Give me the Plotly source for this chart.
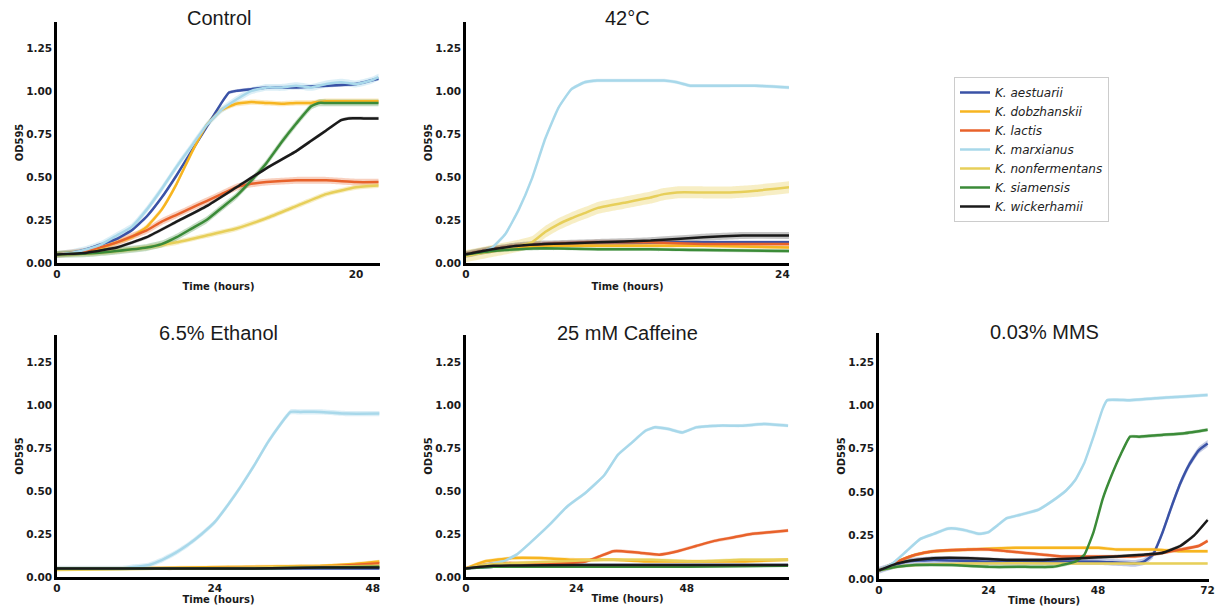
import plotly.graph_objects as go

# ---------------- data ----------------
SPECIES = ["K. aestuarii", "K. dobzhanskii", "K. lactis", "K. marxianus",
           "K. nonfermentans", "K. siamensis", "K. wickerhamii"]
PANEL_TITLES = ["Control", "42°C", "6.5% Ethanol", "25 mM Caffeine", "0.03% MMS"]
X_TICKS = [[0, 20], [0, 24], [0, 24, 48], [0, 24, 48], [0, 24, 48, 72]]
Y_TICKS = [0.0, 0.25, 0.5, 0.75, 1.0, 1.25]

# Control
ctrl_aes_t = [0, 1, 2, 3, 4, 5, 6, 7, 8, 9, 10, 11, 11.5, 12, 13, 14, 16, 18, 20, 21.5]
ctrl_aes = [0.05, 0.06, 0.08, 0.11, 0.14, 0.19, 0.27, 0.38, 0.51, 0.65, 0.79, 0.93, 0.99, 1.00, 1.01, 1.02, 1.02, 1.03, 1.04, 1.07]
ctrl_dob_t = [0, 1, 2, 3, 4, 5, 6, 7, 8, 9, 10, 11, 12, 13, 14, 15, 16, 17, 18, 19, 20, 21.5]
ctrl_dob = [0.05, 0.06, 0.07, 0.09, 0.12, 0.15, 0.21, 0.31, 0.46, 0.64, 0.80, 0.89, 0.925, 0.935, 0.93, 0.925, 0.93, 0.93, 0.94, 0.94, 0.94, 0.94]
ctrl_lac_t = [0, 2, 4, 6, 7, 8, 9, 10, 11, 12, 13, 14, 16, 18, 20, 21.5]
ctrl_lac = [0.05, 0.07, 0.12, 0.19, 0.24, 0.28, 0.32, 0.36, 0.40, 0.44, 0.46, 0.47, 0.48, 0.48, 0.47, 0.47]
ctrl_mar_t = [0, 1, 2, 3, 4, 5, 6, 7, 8, 9, 10, 11, 12, 13, 14, 15, 16, 17, 18, 19, 20, 21, 21.5]
ctrl_mar = [0.05, 0.06, 0.08, 0.11, 0.16, 0.21, 0.31, 0.43, 0.56, 0.68, 0.80, 0.89, 0.95, 1.00, 1.02, 1.02, 1.03, 1.02, 1.04, 1.05, 1.04, 1.06, 1.08]
ctrl_non_t = [0, 2, 4, 6, 8, 10, 12, 14, 16, 18, 20, 21.5]
ctrl_non = [0.05, 0.055, 0.07, 0.09, 0.12, 0.16, 0.20, 0.26, 0.33, 0.40, 0.44, 0.45]
ctrl_sia_t = [0, 2, 4, 6, 7, 8, 9, 10, 11, 12, 13, 14, 15, 16, 17, 17.5, 18, 20, 21.5]
ctrl_sia = [0.05, 0.055, 0.07, 0.09, 0.11, 0.15, 0.20, 0.25, 0.32, 0.39, 0.48, 0.58, 0.70, 0.81, 0.91, 0.93, 0.93, 0.93, 0.93]
ctrl_wic_t = [0, 2, 4, 6, 8, 10, 12, 14, 16, 17, 18, 19, 19.5, 20.5, 21.5]
ctrl_wic = [0.05, 0.06, 0.09, 0.15, 0.24, 0.33, 0.44, 0.55, 0.65, 0.71, 0.77, 0.83, 0.84, 0.84, 0.84]
ctrl_sd = [0.01, 0.015, 0.02, 0.02, 0.015, 0.02, 0.01]

# 42 °C
heat_aes_t = [0, 2, 4, 6, 10, 14, 18, 24.5]
heat_aes = [0.05, 0.08, 0.10, 0.11, 0.12, 0.12, 0.12, 0.12]
heat_dob_t = [0, 2, 4, 6, 10, 14, 18, 24.5]
heat_dob = [0.05, 0.07, 0.09, 0.10, 0.10, 0.10, 0.10, 0.09]
heat_lac_t = [0, 2, 4, 6, 10, 14, 18, 24.5]
heat_lac = [0.05, 0.08, 0.10, 0.11, 0.12, 0.12, 0.11, 0.11]
heat_mar_t = [0, 1, 2, 3, 4, 5, 6, 7, 8, 9, 10, 12, 14, 15, 16, 17, 18, 20, 22, 24.5]
heat_mar = [0.05, 0.06, 0.09, 0.17, 0.31, 0.49, 0.72, 0.90, 1.01, 1.05, 1.06, 1.06, 1.06, 1.06, 1.05, 1.03, 1.03, 1.03, 1.03, 1.02]
heat_non_t = [0, 2, 4, 5, 6, 7, 8, 9, 10, 12, 14, 15, 16, 18, 20, 22, 24.5]
heat_non = [0.04, 0.07, 0.10, 0.12, 0.18, 0.225, 0.26, 0.29, 0.32, 0.35, 0.38, 0.40, 0.41, 0.41, 0.41, 0.42, 0.44]
heat_sia_t = [0, 2, 4, 6, 10, 14, 18, 24.5]
heat_sia = [0.05, 0.07, 0.08, 0.085, 0.08, 0.08, 0.075, 0.07]
heat_wic_t = [0, 2, 4, 6, 10, 14, 18, 21, 24.5]
heat_wic = [0.05, 0.08, 0.10, 0.11, 0.12, 0.13, 0.15, 0.16, 0.16]
heat_sd = [0.01, 0.01, 0.015, 0.01, 0.035, 0.01, 0.02]

# 6.5 % Ethanol
eth_aes_t = [0, 12, 24, 36, 49]
eth_aes = [0.05, 0.05, 0.05, 0.05, 0.05]
eth_dob_t = [0, 10, 20, 30, 40, 45, 49]
eth_dob = [0.05, 0.05, 0.055, 0.06, 0.065, 0.075, 0.09]
eth_lac_t = [0, 10, 20, 30, 40, 45, 49]
eth_lac = [0.05, 0.05, 0.05, 0.055, 0.06, 0.07, 0.08]
eth_mar_t = [0, 4, 8, 10, 12, 14, 16, 18, 20, 22, 24, 26, 28, 30, 32, 34, 35.5, 37, 40, 44, 49]
eth_mar = [0.05, 0.05, 0.05, 0.05, 0.06, 0.07, 0.10, 0.14, 0.19, 0.25, 0.32, 0.42, 0.53, 0.65, 0.78, 0.89, 0.96, 0.96, 0.96, 0.95, 0.95]
eth_non_t = [0, 10, 20, 30, 40, 49]
eth_non = [0.04, 0.045, 0.05, 0.055, 0.06, 0.065]
eth_sia_t = [0, 20, 30, 40, 49]
eth_sia = [0.05, 0.05, 0.05, 0.055, 0.06]
eth_wic_t = [0, 10, 20, 30, 40, 49]
eth_wic = [0.05, 0.05, 0.05, 0.05, 0.055, 0.055]
eth_sd = [0.005, 0.01, 0.01, 0.015, 0.005, 0.005, 0.005]

# 25 mM Caffeine
caf_aes_t = [0, 6, 20, 40, 70]
caf_aes = [0.05, 0.06, 0.07, 0.07, 0.07]
caf_dob_t = [0, 4, 10, 16, 24, 32, 40, 50, 60, 70]
caf_dob = [0.05, 0.09, 0.11, 0.11, 0.10, 0.10, 0.09, 0.09, 0.09, 0.10]
caf_lac_t = [0, 6, 12, 20, 26, 29, 32, 34, 38, 42, 46, 50, 54, 58, 62, 66, 70]
caf_lac = [0.05, 0.08, 0.08, 0.08, 0.09, 0.12, 0.15, 0.15, 0.14, 0.13, 0.15, 0.18, 0.21, 0.23, 0.25, 0.26, 0.27]
caf_mar_t = [0, 4, 8, 11, 14, 18, 22, 26, 30, 33, 36, 39, 41, 44, 47, 50, 55, 60, 65, 70]
caf_mar = [0.05, 0.07, 0.09, 0.13, 0.20, 0.30, 0.41, 0.49, 0.59, 0.71, 0.78, 0.85, 0.87, 0.86, 0.84, 0.87, 0.88, 0.88, 0.89, 0.88]
caf_non_t = [0, 4, 10, 20, 30, 40, 50, 60, 70]
caf_non = [0.05, 0.07, 0.08, 0.09, 0.10, 0.10, 0.09, 0.10, 0.10]
caf_sia_t = [0, 6, 12, 24, 48, 70]
caf_sia = [0.05, 0.06, 0.06, 0.06, 0.06, 0.065]
caf_wic_t = [0, 6, 24, 48, 70]
caf_wic = [0.05, 0.065, 0.07, 0.07, 0.07]
caf_sd = [0.005, 0.01, 0.01, 0.01, 0.01, 0.005, 0.005]

# 0.03 % MMS
mms_aes_t = [0, 6, 12, 24, 36, 48, 56, 58, 60, 62, 64, 66, 68, 70, 72]
mms_aes = [0.05, 0.10, 0.11, 0.10, 0.10, 0.10, 0.09, 0.10, 0.14, 0.26, 0.41, 0.55, 0.66, 0.74, 0.78]
mms_dob_t = [0, 4, 8, 12, 20, 30, 40, 48, 52, 60, 66, 72]
mms_dob = [0.05, 0.10, 0.14, 0.16, 0.17, 0.18, 0.18, 0.18, 0.17, 0.17, 0.16, 0.16]
mms_lac_t = [0, 4, 8, 12, 20, 24, 28, 32, 36, 40, 48, 56, 62, 66, 70, 72]
mms_lac = [0.05, 0.10, 0.14, 0.16, 0.17, 0.17, 0.16, 0.15, 0.14, 0.13, 0.13, 0.13, 0.15, 0.17, 0.19, 0.22]
mms_mar_t = [0, 3, 6, 9, 12, 15, 17, 19, 22, 24, 26, 28, 31, 35, 38, 41, 43, 45, 47, 49, 50, 55, 60, 66, 72]
mms_mar = [0.05, 0.09, 0.16, 0.23, 0.26, 0.29, 0.29, 0.28, 0.26, 0.27, 0.31, 0.35, 0.37, 0.40, 0.45, 0.51, 0.57, 0.67, 0.82, 0.98, 1.03, 1.03, 1.04, 1.05, 1.06]
mms_non_t = [0, 4, 8, 20, 40, 72]
mms_non = [0.05, 0.07, 0.08, 0.09, 0.09, 0.09]
mms_sia_t = [0, 4, 8, 16, 24, 32, 38, 40, 43, 45, 47, 49, 51, 53, 55, 57, 62, 67, 72]
mms_sia = [0.05, 0.07, 0.08, 0.08, 0.07, 0.07, 0.07, 0.08, 0.10, 0.14, 0.27, 0.46, 0.60, 0.72, 0.82, 0.82, 0.83, 0.84, 0.86]
mms_wic_t = [0, 4, 8, 12, 20, 28, 36, 44, 52, 58, 62, 66, 69, 72]
mms_wic = [0.05, 0.09, 0.11, 0.12, 0.12, 0.11, 0.11, 0.12, 0.13, 0.14, 0.15, 0.19, 0.25, 0.34]
mms_sd = [0.02, 0.01, 0.01, 0.01, 0.005, 0.01, 0.01]

# ---------------- styling ----------------
COLORS = ["#3A52A6", "#F7B520", "#E8622B", "#A8D8EA", "#E7CF5A", "#3B8B38", "#1A1A1A"]
FILLS = ["rgba(58,82,166,0.30)", "rgba(247,181,32,0.30)", "rgba(232,98,43,0.30)",
         "rgba(168,216,234,0.40)", "rgba(231,207,90,0.35)", "rgba(59,139,56,0.30)",
         "rgba(26,26,26,0.25)"]

W, H = 1221, 612
# pixel boxes: (left, right, top, bottom)
BOXES = [(57, 380, 22, 263), (466, 789, 22, 263),
         (57, 380, 335, 577), (466, 789, 335, 577), (879, 1209, 333, 579)]
X_RANGES = [[0, 21.6], [0, 24.5], [0, 49.1], [0, 70.2], [0, 72.3]]
Y_RANGES = [[0, 1.40], [0, 1.40], [0, 1.407], [0, 1.407], [0, 1.417]]
TITLE_Y = [18, 18, 333, 333, 332]
SMOOTH = 0.4

panels = [
    [(ctrl_aes_t, ctrl_aes), (ctrl_dob_t, ctrl_dob), (ctrl_lac_t, ctrl_lac), (ctrl_mar_t, ctrl_mar),
     (ctrl_non_t, ctrl_non), (ctrl_sia_t, ctrl_sia), (ctrl_wic_t, ctrl_wic)],
    [(heat_aes_t, heat_aes), (heat_dob_t, heat_dob), (heat_lac_t, heat_lac), (heat_mar_t, heat_mar),
     (heat_non_t, heat_non), (heat_sia_t, heat_sia), (heat_wic_t, heat_wic)],
    [(eth_aes_t, eth_aes), (eth_dob_t, eth_dob), (eth_lac_t, eth_lac), (eth_mar_t, eth_mar),
     (eth_non_t, eth_non), (eth_sia_t, eth_sia), (eth_wic_t, eth_wic)],
    [(caf_aes_t, caf_aes), (caf_dob_t, caf_dob), (caf_lac_t, caf_lac), (caf_mar_t, caf_mar),
     (caf_non_t, caf_non), (caf_sia_t, caf_sia), (caf_wic_t, caf_wic)],
    [(mms_aes_t, mms_aes), (mms_dob_t, mms_dob), (mms_lac_t, mms_lac), (mms_mar_t, mms_mar),
     (mms_non_t, mms_non), (mms_sia_t, mms_sia), (mms_wic_t, mms_wic)],
]
sds = [ctrl_sd, heat_sd, eth_sd, caf_sd, mms_sd]

fig = go.Figure()
TICKFONT = dict(family="DejaVu Sans", size=10.5, color="#1a1a1a", weight="bold")
TITLEFONT = dict(family="DejaVu Sans", size=10, color="#1a1a1a", weight="bold")

for p, series in enumerate(panels):
    xa = "x" if p == 0 else f"x{p+1}"
    ya = "y" if p == 0 else f"y{p+1}"
    # confidence bands first
    for s, (t, v) in enumerate(series):
        sd = sds[p][s]
        fig.add_trace(go.Scatter(x=t, y=[a + sd for a in v], mode="lines",
                                 line=dict(width=0, shape="spline", smoothing=SMOOTH),
                                 xaxis=xa, yaxis=ya, showlegend=False, hoverinfo="skip"))
        fig.add_trace(go.Scatter(x=t, y=[a - sd for a in v], mode="lines",
                                 line=dict(width=0, shape="spline", smoothing=SMOOTH),
                                 fill="tonexty", fillcolor=FILLS[s],
                                 xaxis=xa, yaxis=ya, showlegend=False, hoverinfo="skip"))
    for s, (t, v) in enumerate(series):
        fig.add_trace(go.Scatter(x=t, y=v, mode="lines", name=SPECIES[s],
                                 line=dict(color=COLORS[s], width=2.5, shape="spline", smoothing=SMOOTH),
                                 xaxis=xa, yaxis=ya, legendgroup=SPECIES[s],
                                 showlegend=(p == 0)))

    l, r, t_, b = BOXES[p]
    xkey = "xaxis" if p == 0 else f"xaxis{p+1}"
    ykey = "yaxis" if p == 0 else f"yaxis{p+1}"
    fig.update_layout(**{
        xkey: dict(domain=[l / W, r / W], anchor=ya, range=X_RANGES[p],
                   tickvals=X_TICKS[p], ticktext=[str(v) for v in X_TICKS[p]],
                   showline=True, linecolor="black", linewidth=2.5, showgrid=False,
                   zeroline=False, ticks="", tickfont=TICKFONT,
                   title=dict(text="Time (hours)", font=TITLEFONT, standoff=4 if p < 2 else 2),
                   automargin=False),
        ykey: dict(domain=[1 - b / H, 1 - t_ / H], anchor=xa, range=Y_RANGES[p],
                   tickvals=Y_TICKS, ticktext=[f"{v:.2f}" for v in Y_TICKS],
                   showline=True, linecolor="black", linewidth=2.5, showgrid=False,
                   zeroline=False, ticks="", tickfont=TICKFONT,
                   title=dict(text="OD595", font=TITLEFONT, standoff=1),
                   automargin=False),
    })
    fig.add_annotation(text=PANEL_TITLES[p], xref="paper", yref="paper",
                       x=(l + r) / 2 / W, y=1 - TITLE_Y[p] / H,
                       xanchor="center", yanchor="middle", showarrow=False,
                       font=dict(family="Liberation Sans", size=20, color="#1a1a1a"))

fig.update_layout(
    width=W, height=H, autosize=False,
    margin=dict(l=0, r=0, t=0, b=0),
    paper_bgcolor="white", plot_bgcolor="white",
    legend=dict(x=954 / W, y=1 - 77 / H, xanchor="left", yanchor="top",
                bgcolor="white", bordercolor="#cccccc", borderwidth=1,
                font=dict(family="DejaVu Sans", size=12, style="italic", color="#222222"),
                tracegroupgap=0, itemwidth=30),
    showlegend=True,
)

fig.write_html("out.html")
